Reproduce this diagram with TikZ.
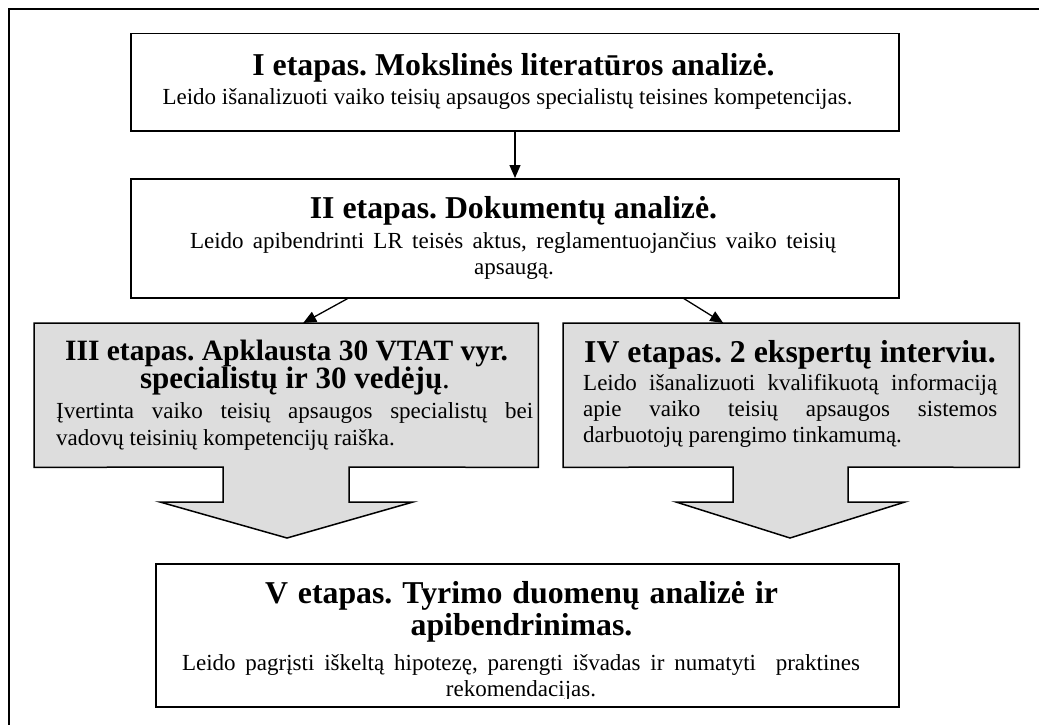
\documentclass[tikz,border=0pt]{standalone}
\usepackage{fontspec}
\setmainfont{Liberation Serif}
\usetikzlibrary{arrows.meta}
\definecolor{callgray}{RGB}{221,221,221}
\frenchspacing
\begin{document}
\begin{tikzpicture}[x=1pt,y=-1pt,
  box/.style={draw, line width=1.5pt, rectangle, inner sep=0pt, fill=white},
  hidden/.style={rectangle, inner sep=0pt},
  callout/.style={draw, line width=1.5pt, fill=callgray, line join=miter},
  ttlfont/.style={font=\fontsize{31.8}{30}\selectfont\bfseries},
  ttl/.style={anchor=base, inner sep=0pt, text height=0.68em, text depth=0.17em, ttlfont},
  bdy/.style={anchor=base, inner sep=0pt, text height=0.7em, text depth=0.2em, font=\fontsize{23}{27}\selectfont},
  bdyl/.style={bdy, anchor=base west},
  conn/.style={line width=1.3pt, -{Triangle[width=11pt,length=13pt]}}
]
\useasboundingbox (0,0) rectangle (1039,725);
\draw[line width=1.3pt] (9,725) -- (9,9) -- (1039,9);

% boxes
\node[box, minimum width=768pt, minimum height=97pt, anchor=north west] (boxI) at (130,33) {};
\node[box, minimum width=768pt, minimum height=119pt, anchor=north west] (boxII) at (130,178) {};
\node[hidden, minimum width=504pt, minimum height=144pt, anchor=north west] (boxIII) at (34,323) {};
\node[hidden, minimum width=456pt, minimum height=144pt, anchor=north west] (boxIV) at (563,323) {};
\node[box, minimum width=743pt, minimum height=143pt, anchor=north west] (boxV) at (155,563) {};

\filldraw[callout] (boxIII.north west) -- (boxIII.north east) -- (boxIII.south east)
  -- (349,467) -- (349,502) -- (413,502) -- (287,538) -- (160,502) -- (223,502) -- (223,467)
  -- (boxIII.south west) -- cycle;
\filldraw[callout] (boxIV.north west) -- (boxIV.north east) -- (boxIV.south east)
  -- (848,467) -- (848,502) -- (905,502) -- (790,538) -- (676,502) -- (733,502) -- (733,467)
  -- (boxIV.south west) -- cycle;

% connectors
\draw[conn] (boxI.south -| 515,0) -- (boxII.north -| 515,0);
\draw[conn] ([xshift=-167pt]boxII.south) -- ([xshift=17pt]boxIII.north);
\draw[conn] ([xshift=169pt]boxII.south) -- ([xshift=-68pt]boxIV.north);

% texts I
\node[ttl] (tI) at (513.5,75) {I etapas. Mokslinės literatūros analizė.};
\node[bdy] (bI) at (507.5,104) {Leido išanalizuoti vaiko teisių apsaugos specialistų teisines kompetencijas.};
% texts II
\node[ttl] (tII) at (513.5,218) {II etapas. Dokumentų analizė.};
\node[bdy] (bIIa) at (513,248) {\makebox[646pt][s]{Leido apibendrinti LR teisės aktus, reglamentuojančius vaiko teisių}};
\node[bdy] (bIIb) at (514,274) {apsaugą.};
% texts III
\node[anchor=base, inner sep=0pt] (tIII) at (286.5,360)
  {\vtop{\baselineskip=28pt\lineskiplimit=-100pt
    \hbox to 480pt{\hss\fontsize{29.5}{28}\selectfont\bfseries III etapas. Apklausta 30 VTAT vyr.\hss}
    \hbox to 480pt{\hss\kern17pt\fontsize{31}{28}\selectfont\bfseries specialistų ir 30 vedėjų\mdseries.\hss}}};
\node[bdyl] (bIIIa) at (56,418) {\makebox[477pt][s]{Įvertinta vaiko teisių apsaugos specialistų bei}};
\node[bdyl] (bIIIb) at (56,445) {vadovų teisinių kompetencijų raiška.};
% texts IV
\node[ttl] (tIV) at (790,362) {IV etapas. 2 ekspertų interviu.};
\node[bdyl] (bIVa) at (583,390) {\makebox[414pt][s]{Leido išanalizuoti kvalifikuotą informaciją}};
\node[bdyl] (bIVb) at (583,416) {\makebox[414pt][s]{apie vaiko teisių apsaugos sistemos}};
\node[bdyl] (bIVc) at (583,442) {darbuotojų parengimo tinkamumą.};
% texts V
\begin{scope}
\clip (155,563) rectangle (898,698);
\node[ttl] (tVa) at (521.5,603) {\makebox[513pt][s]{V etapas. Tyrimo duomenų analizė ir}};
\node[ttl] (tVb) at (521.5,635) {apibendrinimas.};
\node[bdy] (bVa) at (521,670) {\makebox[678pt][s]{Leido pagrįsti iškeltą hipotezę, parengti išvadas ir numatyti~ praktines}};
\node[bdy] (bVb) at (521,696) {rekomendacijas.};
\end{scope}
\end{tikzpicture}
\end{document}
